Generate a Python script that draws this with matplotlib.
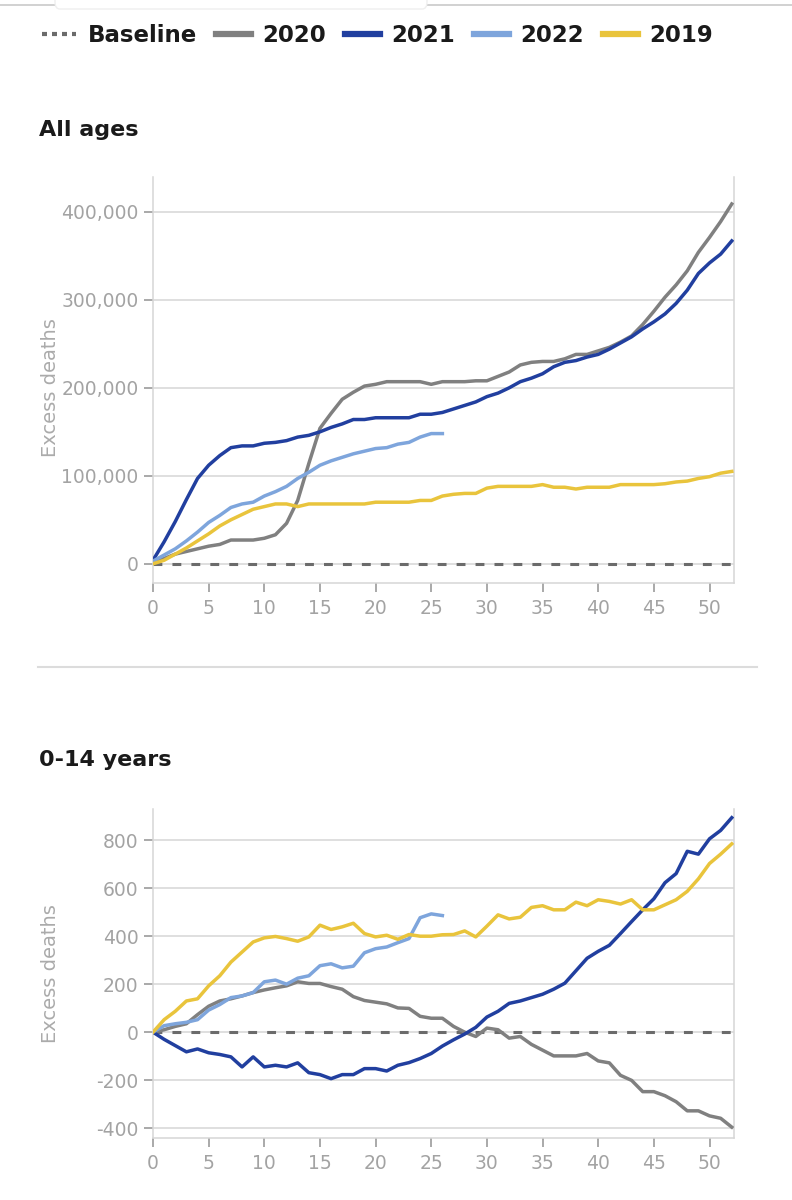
"""Cumulative excess deaths by week: all ages vs 0-14 years, 2019-2022."""

import matplotlib

matplotlib.use("Agg")
import matplotlib.patches as mp
import matplotlib.pyplot as plt
from matplotlib.lines import Line2D
from matplotlib.ticker import FuncFormatter

plt.rcParams.update({"font.family": ["DejaVu Sans"], "axes.linewidth": 1.1})

C_2020, C_2021, C_2022, C_2019 = "#808080", "#213f9f", "#7ea5dc", "#e9c43c"
C_BASE, C_GRID, C_TICK = "#6b6b6b", "#d6d6d6", "#a3a3a3"

# data
weeks = list(range(53))
weeks_2022 = list(range(27))

all_2020 = [2, 6, 11, 14, 17, 20, 22, 27, 27, 27, 29, 33, 46, 72, 114, 154, 171, 187, 195, 202,
            204, 207, 207, 207, 207, 204, 207, 207, 207, 208, 208, 213, 218, 226, 229, 230, 230,
            233, 238, 238, 242, 246, 252, 259, 272, 287, 303, 317, 333, 354, 371, 389, 409]
all_2021 = [4, 25, 48, 73, 97, 112, 123, 132, 134, 134, 137, 138, 140, 144, 146, 150, 155, 159,
            164, 164, 166, 166, 166, 166, 170, 170, 172, 176, 180, 184, 190, 194, 200, 207, 211,
            216, 224, 229, 231, 235, 238, 244, 251, 258, 267, 275, 284, 296, 311, 330, 342, 352, 367]
all_2022 = [3, 10, 17, 26, 36, 47, 55, 64, 68, 70, 77, 82, 88, 97, 104, 112, 117, 121, 125, 128,
            131, 132, 136, 138, 144, 148, 148]
all_2019 = [0, 4, 11, 18, 26, 34, 43, 50, 56, 62, 65, 68, 68, 65, 68, 68, 68, 68, 68, 68, 70, 70,
            70, 70, 72, 72, 77, 79, 80, 80, 86, 88, 88, 88, 88, 90, 87, 87, 85, 87, 87, 87, 90, 90,
            90, 90, 91, 93, 94, 97, 99, 103, 105]

kid_2020 = [0, 10, 24, 35, 73, 108, 130, 139, 151, 165, 176, 185, 193, 210, 203, 203, 190, 179,
            148, 132, 125, 118, 101, 99, 66, 58, 58, 24, 0, -18, 17, 10, -25, -18, -51, -75, -99,
            -99, -99, -89, -120, -128, -180, -201, -248, -248, -265, -290, -328, -328, -349, -359, -396]
kid_2021 = [0, -30, -56, -82, -70, -86, -93, -103, -145, -103, -145, -138, -145, -128, -169, -177,
            -194, -177, -177, -152, -152, -162, -138, -127, -110, -89, -58, -32, -8, 20, 63, 87,
            120, 130, 144, 158, 179, 204, 256, 308, 337, 362, 411, 461, 510, 556, 623, 661, 754,
            742, 806, 841, 894]
kid_2022 = [0, 27, 35, 41, 52, 92, 115, 144, 151, 165, 210, 217, 200, 225, 235, 277, 285, 268,
            275, 331, 348, 355, 373, 390, 477, 493, 486]
kid_2019 = [0, 52, 87, 130, 139, 193, 235, 292, 334, 376, 393, 399, 390, 379, 397, 446, 428, 439,
            454, 411, 397, 404, 387, 407, 400, 400, 406, 407, 422, 397, 442, 489, 472, 479, 520,
            527, 510, 510, 542, 527, 552, 545, 534, 552, 510, 510, 531, 552, 587, 639, 703, 742, 785]

all_yticks = [0, 100000, 200000, 300000, 400000]
kid_yticks = [-400, -200, 0, 200, 400, 600, 800]
xticks = [0, 5, 10, 15, 20, 25, 30, 35, 40, 45, 50]

LW = 2.5


def _panel(ax, s2020, s2021, s2022, s2019, yticks, ylim, scale, ylab_y):
    ax.set_xlim(0, 52.2)
    ax.set_ylim(*ylim)
    ax.plot([0, 52.2], [0, 0], color=C_BASE, lw=2.2, ls=(0, (2.9, 3.3)), zorder=2)
    ax.plot(weeks, [v * scale for v in s2020], color=C_2020, lw=LW, zorder=3)
    ax.plot(weeks, [v * scale for v in s2021], color=C_2021, lw=LW, zorder=3)
    ax.plot(weeks_2022, [v * scale for v in s2022], color=C_2022, lw=LW, zorder=3)
    ax.plot(weeks, [v * scale for v in s2019], color=C_2019, lw=LW, zorder=3)

    ax.set_yticks(yticks)
    ax.set_xticks(xticks)
    ax.yaxis.set_major_formatter(FuncFormatter(lambda v, _: f"{v:,.0f}"))
    ax.grid(axis="y", color=C_GRID, lw=1.1, zorder=0)
    ax.set_axisbelow(True)
    for side in ("left", "bottom", "right"):
        ax.spines[side].set_color(C_GRID)
    ax.spines["top"].set_visible(False)
    ax.tick_params(axis="both", colors=C_TICK, labelcolor=C_TICK, labelsize=13.5,
                   length=6.5, width=1.3, pad=4)
    ax.tick_params(axis="x", pad=5)
    ax.text(-0.177, ylab_y, "Excess deaths", transform=ax.transAxes, rotation=90,
            ha="center", va="center", color="#ababab", fontsize=14)


def main():
    fig = plt.figure(figsize=(7.92, 12), dpi=100)

    # browser chrome at the very top
    fig.add_artist(Line2D([0, 1], [1 - 5 / 1200] * 2, color="#c9c9c9", lw=1.2))
    fig.add_artist(mp.FancyBboxPatch((55 / 792, 1 - 9 / 1200), 372 / 792, 0.02,
                                     boxstyle="round,pad=0,rounding_size=0.006",
                                     fc="white", ec="#efefef", lw=1.0, zorder=5))

    handles = [Line2D([], [], color=C_BASE, lw=3, ls=(0, (1.2, 1.2))),
               Line2D([], [], color=C_2020, lw=4.5),
               Line2D([], [], color=C_2021, lw=4.5),
               Line2D([], [], color=C_2022, lw=4.5),
               Line2D([], [], color=C_2019, lw=4.5)]
    labels = ["Baseline", "2020", "2021", "2022", "2019"]
    fig.legend(handles, labels, loc="center left", bbox_to_anchor=(21 / 792, 1 - 36 / 1200),
               ncol=5, frameon=False, handlelength=1.5, handletextpad=0.5, columnspacing=0.85,
               prop={"weight": "bold", "size": 16.5}, labelcolor="#1a1a1a")

    fig.text(39 / 792, 1 - 130 / 1200, "All ages", fontsize=16, fontweight="bold",
             color="#1a1a1a", va="center", ha="left")
    fig.text(39 / 792, 1 - 760 / 1200, "0-14 years", fontsize=16, fontweight="bold",
             color="#1a1a1a", va="center", ha="left")
    fig.add_artist(Line2D([38 / 792, 757 / 792], [1 - 667 / 1200] * 2, color="#dcdcdc", lw=1.5))

    ax1 = fig.add_axes([153 / 792, 1 - 582.7 / 1200, 581 / 792, 406 / 1200])
    _panel(ax1, all_2020, all_2021, all_2022, all_2019, all_yticks, (-21500, 440000), 1000, 0.48)

    ax2 = fig.add_axes([153 / 792, 1 - 1137.7 / 1200, 581 / 792, 328.4 / 1200])
    _panel(ax2, kid_2020, kid_2021, kid_2022, kid_2019, kid_yticks, (-440, 929), 1, 0.50)

    fig.savefig("out.png", dpi=100)


if __name__ == "__main__":
    main()
